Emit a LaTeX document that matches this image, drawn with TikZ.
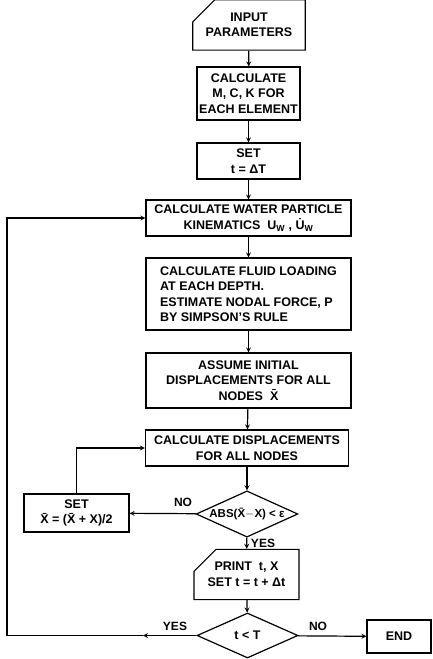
\documentclass[tikz,border=0pt]{standalone}
\usepackage{fontspec}
\setmainfont{Liberation Sans}
\usetikzlibrary{arrows, positioning, shapes.geometric, shapes.misc}

\begin{document}
\begin{tikzpicture}[x=1pt,y=-1pt,>=stealth,line width=1.2pt,
 every node/.style={font=\fontsize{12.5}{15.5}\selectfont\bfseries},
 proc/.style={rectangle,draw,align=center,inner sep=2pt},
 io/.style={chamfered rectangle,chamfered rectangle corners=north west,
   chamfered rectangle xsep=11pt,chamfered rectangle ysep=11pt,draw,align=center,inner sep=2pt},
 test/.style={diamond,draw,aspect=2.2,inner sep=0pt,minimum width=101pt,minimum height=46pt},
 answer/.style={font=\fontsize{12}{14}\selectfont\bfseries}]
 \useasboundingbox (0,0) rectangle (432,659);
 \node[io,minimum width=102pt,minimum height=38pt] (inp) at (249,25) {INPUT\\PARAMETERS};
 \node[proc,minimum width=103pt,minimum height=53pt] (mck) at (248.5,93.5) {CALCULATE\\M, C, K FOR\\EACH ELEMENT};
 \node[proc,minimum width=103pt,minimum height=36pt] (sett) at (248.5,161) {SET\\t = ΔT};
 \node[proc,minimum width=205pt,minimum height=36pt] (kin) at (248.5,218)
   {CALCULATE WATER PARTICLE\\KINEMATICS\ \ U\textsubscript{W} , \.{U}\textsubscript{W}};
 \node[proc,minimum width=205pt,minimum height=72pt,align=left] (fluid) at (248.5,294)
   {CALCULATE FLUID LOADING\\AT EACH DEPTH.\\ESTIMATE NODAL FORCE, P\\BY SIMPSON'S RULE};
 \node[proc,minimum width=205pt,minimum height=55pt] (assume) at (248.5,380.5)
   {ASSUME INITIAL\\DISPLACEMENTS FOR ALL\\NODES\ \ \={X}};
 \node[proc,minimum width=203pt,minimum height=36pt] (disp) at (247,448)
   {CALCULATE DISPLACEMENTS\\FOR ALL NODES};
 \node[test] (conv) at (247,514) {\fontsize{11.5}{13}\selectfont ABS(\={X}$-$X) < ε};
 \node[proc,minimum width=105pt,minimum height=38pt] (setx) at (76.5,513)
   {SET\\\={X} = (\={X} + X)/2};
 \node[io,minimum width=105pt,minimum height=35pt] (prt) at (246.5,574.5)
   {PRINT\ \ t, X\\SET t = t + Δt};
 \node[test,minimum height=45pt] (tchk) at (247.5,635.5) {t < T};
 \node[proc,minimum width=64pt,minimum height=33pt] (endb) at (399,636.5) {END};
 \coordinate (yesmid) at (143,635.5);
 \coordinate (loopcorner) at (7,635.5);
 \draw[->] (inp)--(mck);
 \draw[->] (mck)--(sett);
 \draw[->] (sett)--(kin);
 \draw[->] (kin)--(fluid);
 \draw[->] (fluid)--(assume);
 \draw[->] (assume)--(disp);
 \draw[->] (disp)--(conv);
 \draw[->] (conv)--(setx);
 \draw[->] (setx.north) |- (disp.west);
 \draw[->] (conv)--(prt);
 \draw[->] (prt)--(tchk);
 \draw[->] (tchk)--(endb);
 \draw[->] (tchk.west)--(yesmid);
 \draw[->] (yesmid)--(loopcorner) |- (kin.west);
 \node[answer] (no1) at (183,502) {NO};
 \node[answer] (yes1) at (263,543) {YES};
 \node[answer] (yes2) at (175,626) {YES};
 \node[answer] (no2) at (318,626) {NO};
\end{tikzpicture}
\end{document}
